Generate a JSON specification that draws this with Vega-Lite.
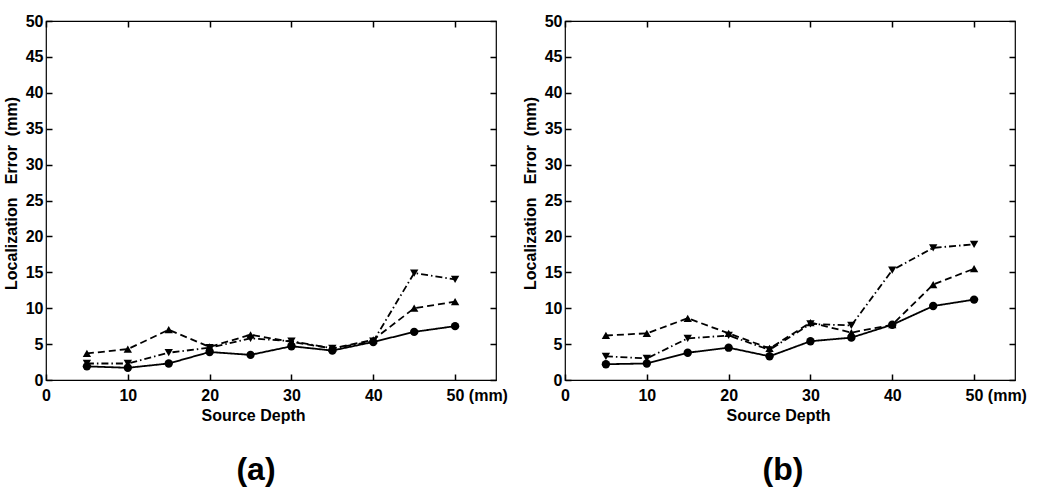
{
  "$schema": "https://vega.github.io/schema/vega-lite/v6.json",
  "padding": {"left": 2, "top": 12, "right": 0, "bottom": 0},
  "spacing": 12,
  "config": {
    "font": "Liberation Sans",
    "view": {"stroke": "black", "strokeWidth": 1.2},
    "axis": {"labelFont": "Liberation Sans", "labelFontWeight": "bold", "labelFontSize": 16, "labelColor": "black", "titleFont": "Liberation Sans", "titleFontWeight": "bold", "titleFontSize": 16, "titleColor": "black", "domain": false, "tickColor": "black", "tickWidth": 1.5, "grid": false},
    "legend": {"labelFont": "Liberation Sans", "labelFontWeight": "bold", "labelFontSize": 16, "labelColor": "black"}
  },
  "datasets": {
    "a": [
      {"depth": 5, "err": 1.9, "series": "96"}, {"depth": 10, "err": 1.7, "series": "96"}, {"depth": 15, "err": 2.3, "series": "96"}, {"depth": 20, "err": 3.9, "series": "96"}, {"depth": 25, "err": 3.5, "series": "96"}, {"depth": 30, "err": 4.7, "series": "96"}, {"depth": 35, "err": 4.1, "series": "96"}, {"depth": 40, "err": 5.3, "series": "96"}, {"depth": 45, "err": 6.7, "series": "96"}, {"depth": 50, "err": 7.5, "series": "96"},
      {"depth": 5, "err": 3.7, "series": "78"}, {"depth": 10, "err": 4.3, "series": "78"}, {"depth": 15, "err": 7.0, "series": "78"}, {"depth": 20, "err": 4.6, "series": "78"}, {"depth": 25, "err": 6.3, "series": "78"}, {"depth": 30, "err": 5.3, "series": "78"}, {"depth": 35, "err": 4.4, "series": "78"}, {"depth": 40, "err": 5.6, "series": "78"}, {"depth": 45, "err": 10.0, "series": "78"}, {"depth": 50, "err": 10.9, "series": "78"},
      {"depth": 5, "err": 2.3, "series": "64"}, {"depth": 10, "err": 2.3, "series": "64"}, {"depth": 15, "err": 3.8, "series": "64"}, {"depth": 20, "err": 4.5, "series": "64"}, {"depth": 25, "err": 5.8, "series": "64"}, {"depth": 30, "err": 5.4, "series": "64"}, {"depth": 35, "err": 4.4, "series": "64"}, {"depth": 40, "err": 5.4, "series": "64"}, {"depth": 45, "err": 14.9, "series": "64"}, {"depth": 50, "err": 14.0, "series": "64"}
    ],
    "b": [
      {"depth": 5, "err": 2.2, "series": "96"}, {"depth": 10, "err": 2.3, "series": "96"}, {"depth": 15, "err": 3.8, "series": "96"}, {"depth": 20, "err": 4.5, "series": "96"}, {"depth": 25, "err": 3.3, "series": "96"}, {"depth": 30, "err": 5.4, "series": "96"}, {"depth": 35, "err": 5.9, "series": "96"}, {"depth": 40, "err": 7.7, "series": "96"}, {"depth": 45, "err": 10.3, "series": "96"}, {"depth": 50, "err": 11.2, "series": "96"},
      {"depth": 5, "err": 6.2, "series": "78"}, {"depth": 10, "err": 6.5, "series": "78"}, {"depth": 15, "err": 8.6, "series": "78"}, {"depth": 20, "err": 6.5, "series": "78"}, {"depth": 25, "err": 4.4, "series": "78"}, {"depth": 30, "err": 8.0, "series": "78"}, {"depth": 35, "err": 6.6, "series": "78"}, {"depth": 40, "err": 7.7, "series": "78"}, {"depth": 45, "err": 13.3, "series": "78"}, {"depth": 50, "err": 15.5, "series": "78"},
      {"depth": 5, "err": 3.3, "series": "64"}, {"depth": 10, "err": 3.0, "series": "64"}, {"depth": 15, "err": 5.8, "series": "64"}, {"depth": 20, "err": 6.2, "series": "64"}, {"depth": 25, "err": 4.2, "series": "64"}, {"depth": 30, "err": 7.8, "series": "64"}, {"depth": 35, "err": 7.6, "series": "64"}, {"depth": 40, "err": 15.3, "series": "64"}, {"depth": 45, "err": 18.4, "series": "64"}, {"depth": 50, "err": 18.9, "series": "64"}
    ]
  },
  "resolve": {"scale": {"shape": "independent", "strokeDash": "independent"}, "legend": {"shape": "independent"}},
  "hconcat": [
    {
      "width": 450, "height": 359,
      "data": {"name": "a"},
      "title": {"text": "(a)", "orient": "bottom", "fontSize": 32, "fontWeight": "bold", "font": "Liberation Sans", "color": "black", "dx": -15, "offset": 32},
      "resolve": {"axis": {"x": "independent", "y": "independent"}},
      "layer": [
        {
          "mark": {"type": "line", "color": "black", "strokeWidth": 1.8},
          "encoding": {
            "x": {"field": "depth", "type": "quantitative", "scale": {"domain": [0, 55], "nice": false},
              "axis": {"orient": "bottom", "values": [0, 10, 20, 30, 40, 50], "offset": -6, "tickSize": 6, "labelPadding": 7, "title": "Source Depth", "titleX": 207, "titlePadding": 4,
                "labelExpr": "datum.value == 50 ? '50\u00a0(mm)' : datum.label",
                "labelAlign": {"condition": {"test": "datum.value == 50", "value": "left"}, "value": "center"},
                "labelOffset": {"condition": {"test": "datum.value == 50", "value": -9}, "value": 0}}},
            "y": {"field": "err", "type": "quantitative", "scale": {"domain": [0, 50], "nice": false},
              "axis": {"orient": "left", "values": [0, 5, 10, 15, 20, 25, 30, 35, 40, 45, 50], "offset": -6, "tickSize": 6, "labelPadding": 3, "title": "Localization\u00a0\u00a0\u00a0Error\u00a0\u00a0(mm)", "titleY": 172, "titlePadding": 6}},
            "strokeDash": {"field": "series", "type": "nominal", "sort": ["96", "78", "64"], "scale": {"domain": ["96", "78", "64"], "range": [[1, 0], [7, 4], [7, 3, 1.5, 3]]}, "legend": null},
            "detail": {"field": "series"}
          }
        },
        {
          "mark": {"type": "point", "filled": true, "color": "black", "opacity": 1, "size": 70},
          "encoding": {
            "x": {"field": "depth", "type": "quantitative", "axis": {"orient": "top", "values": [0, 10, 20, 30, 40, 50], "offset": -6, "tickSize": 6, "labels": false, "title": null}},
            "y": {"field": "err", "type": "quantitative", "axis": {"orient": "right", "values": [0, 5, 10, 15, 20, 25, 30, 35, 40, 45, 50], "offset": -6, "tickSize": 6, "labels": false, "title": null}},
            "shape": {"field": "series", "type": "nominal", "sort": ["96", "78", "64"], "scale": {"domain": ["96", "78", "64"], "range": ["circle", "triangle-up", "triangle-down"]},
              "legend": {"orient": "top-left", "offset": 12, "title": null, "padding": 6, "strokeColor": "black", "fillColor": "white", "symbolSize": 90, "labelOffset": 10, "labelLimit": 400, "rowPadding": 3,
                "labelExpr": "'Electrode\u00a0\u00a0\u00a0Number:\u00a0\u00a0\u00a0' + datum.label"}}
          }
        }
      ]
    },
    {
      "width": 450, "height": 359,
      "data": {"name": "b"},
      "title": {"text": "(b)", "orient": "bottom", "fontSize": 32, "fontWeight": "bold", "font": "Liberation Sans", "color": "black", "dx": -7, "offset": 32},
      "resolve": {"axis": {"x": "independent", "y": "independent"}},
      "layer": [
        {
          "mark": {"type": "line", "color": "black", "strokeWidth": 1.8},
          "encoding": {
            "x": {"field": "depth", "type": "quantitative", "scale": {"domain": [0, 55], "nice": false},
              "axis": {"orient": "bottom", "values": [0, 10, 20, 30, 40, 50], "offset": -6, "tickSize": 6, "labelPadding": 7, "title": "Source Depth", "titleX": 213, "titlePadding": 4,
                "labelExpr": "datum.value == 50 ? '50\u00a0(mm)' : datum.label",
                "labelAlign": {"condition": {"test": "datum.value == 50", "value": "left"}, "value": "center"},
                "labelOffset": {"condition": {"test": "datum.value == 50", "value": -9}, "value": 0}}},
            "y": {"field": "err", "type": "quantitative", "scale": {"domain": [0, 50], "nice": false},
              "axis": {"orient": "left", "values": [0, 5, 10, 15, 20, 25, 30, 35, 40, 45, 50], "offset": -6, "tickSize": 6, "labelPadding": 3, "title": "Localization\u00a0\u00a0\u00a0Error\u00a0\u00a0(mm)", "titleY": 172, "titlePadding": 6}},
            "strokeDash": {"field": "series", "type": "nominal", "sort": ["96", "78", "64"], "scale": {"domain": ["96", "78", "64"], "range": [[1, 0], [7, 4], [7, 3, 1.5, 3]]}, "legend": null},
            "detail": {"field": "series"}
          }
        },
        {
          "mark": {"type": "point", "filled": true, "color": "black", "opacity": 1, "size": 70},
          "encoding": {
            "x": {"field": "depth", "type": "quantitative", "axis": {"orient": "top", "values": [0, 10, 20, 30, 40, 50], "offset": -6, "tickSize": 6, "labels": false, "title": null}},
            "y": {"field": "err", "type": "quantitative", "axis": {"orient": "right", "values": [0, 5, 10, 15, 20, 25, 30, 35, 40, 45, 50], "offset": -6, "tickSize": 6, "labels": false, "title": null}},
            "shape": {"field": "series", "type": "nominal", "sort": ["96", "78", "64"], "scale": {"domain": ["96", "78", "64"], "range": ["circle", "triangle-up", "triangle-down"]},
              "legend": {"orient": "top-left", "offset": 16, "title": null, "padding": 6, "strokeColor": "black", "fillColor": "white", "symbolSize": 90, "labelOffset": 10, "labelLimit": 400, "rowPadding": 3,
                "labelExpr": "'Electrode\u00a0\u00a0\u00a0Number:\u00a0\u00a0\u00a0' + datum.label"}}
          }
        }
      ]
    }
  ]
}
